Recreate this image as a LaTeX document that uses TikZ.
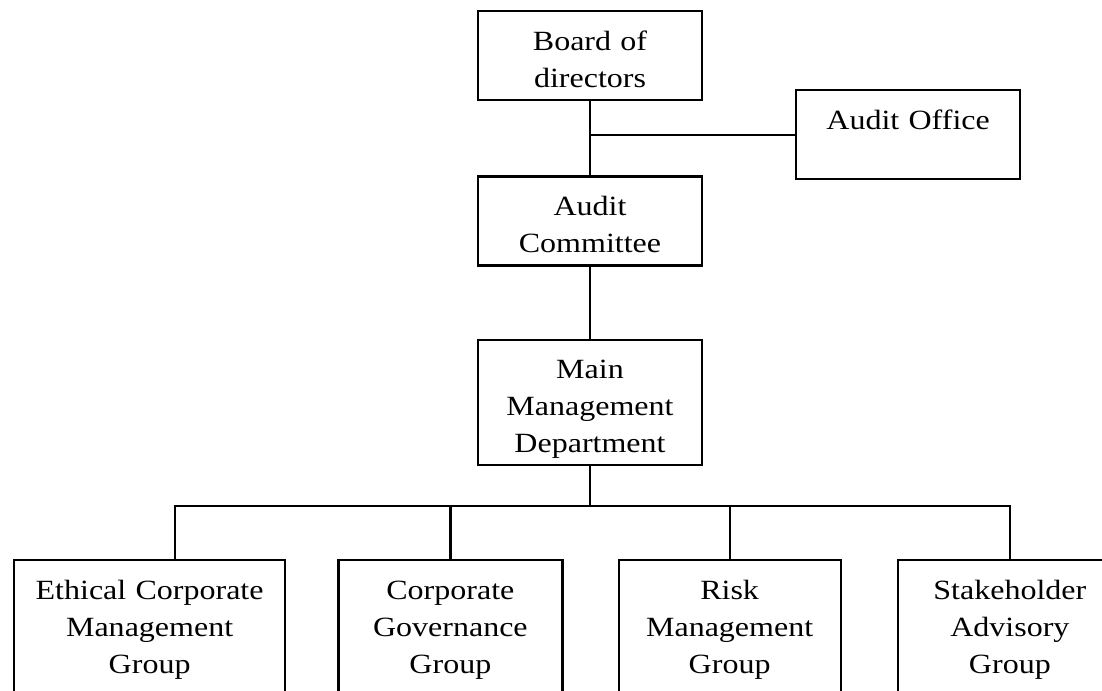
\documentclass[tikz,border=0pt]{standalone}
\usepackage{fontspec}
\setmainfont{Liberation Serif}[FakeStretch=1.15]
\usepackage{tikz}
\usetikzlibrary{positioning}
\newcommand{\orgfont}{\fontsize{19.8}{26.3}\selectfont}
\tikzstyle{link} = [line width=1.6pt]
\tikzstyle{orgbox} = [rectangle, draw, line width=1.6pt, inner sep=0pt, text width=5.6cm, align=center, text height=0.975cm, text depth=1.25cm, font=\orgfont]
\tikzstyle{groupbox} = [orgbox, text depth=4cm]

\begin{document}
\begin{tikzpicture}
\useasboundingbox (0,0) rectangle (27.55,-17.25);
\clip (0,0) rectangle (27.55,-17.25);
\node[orgbox, anchor=north] (board) at (14.75,-0.25) {Board of\\directors};
\node[orgbox, below=1.85cm of board] (committee) {Audit\\Committee};
\node[orgbox, below=1.8cm of committee, text depth=2.15cm] (main) {Main\\Management\\Department};
\node[orgbox, anchor=north west] (office) at (19.875,-2.225) {Audit Office};

\node[groupbox, anchor=north west, text width=6.775cm] (ethical) at (0.325,-13.975) {Ethical Corporate\\Management\\Group};
\node[groupbox, right=1.275cm of ethical.north east, anchor=north west] (corporate) {Corporate\\Governance\\Group};
\node[groupbox, right=1.35cm of corporate.north east, anchor=north west, text width=5.55cm] (risk) {Risk\\Management\\Group};
\node[groupbox, right=1.375cm of risk.north east, anchor=north west] (stakeholder) {Stakeholder\\Advisory\\Group};

\draw[link] (board) -- (committee);
\draw[link] (office.west) -- (office.west -| board.south);
\draw[link] (committee) -- (main);
\draw[link] (main.south) -- ++(0,-1cm) coordinate (bus);
\draw[link] ([xshift=0.6375cm]ethical.north) |- (bus) -| (stakeholder.north);
\draw[link] (corporate.north) -- (corporate.north |- bus);
\draw[link] (risk.north) -- (risk.north |- bus);
\end{tikzpicture}
\end{document}
